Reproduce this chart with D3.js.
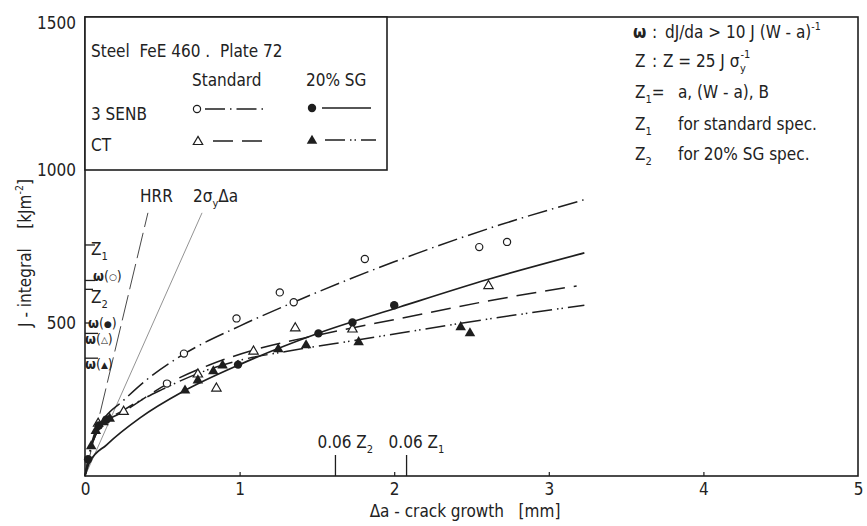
<!DOCTYPE html>
<html><head><meta charset="utf-8">
<script src="https://cdn.jsdelivr.net/npm/d3@7"></script>
<style>
body{margin:0;background:#fff}
svg text{font-family:'DejaVu Sans Condensed','Liberation Sans Narrow','DejaVu Sans',sans-serif;fill:#222;white-space:pre}
</style></head><body>
<svg id="chart" width="867" height="526"></svg>
<script>
// ---------------- DATA ----------------
const xTicks = [0, 1, 2, 3, 4, 5];
const yTicks = [500, 1000, 1500];

// measured points: [crack growth mm, J kJ/m2]
const senbStdPts = [[0.53,302],[0.64,400],[0.98,515],[1.26,600],[1.35,568],[1.81,709],[2.55,748],[2.73,765]];
const senbSgPts  = [[0.02,55],[0.09,165],[0.14,185],[0.99,364],[1.51,466],[1.73,502],[2.0,558]];
const ctStdPts   = [[0.085,174],[0.25,213],[0.73,335],[0.85,289],[1.09,410],[1.36,486],[1.73,482],[2.61,624]];
const ctSgPts    = [[0.04,100],[0.07,150],[0.12,178],[0.16,190],[0.647,282],[0.73,315],[0.83,345],[0.89,364],[1.25,417],[1.43,430],[1.77,440],[2.43,489],[2.49,469]];

// fitted curves
const senbStdCurve = [[0,0],[0.05,120],[0.12,185],[0.24,243],[0.4,315],[0.615,391],[1.0,490],[1.35,568],[2.0,700],[2.68,820],[3.25,906]];
const senbSgCurve  = [[0,0],[0.03,45],[0.14,102],[0.356,190],[0.634,276],[1.0,364],[1.5,465],[2.04,553],[2.61,643],[3.23,729]];
const ctStdCurve   = [[0,0],[0.05,110],[0.1,160],[0.26,213],[0.53,300],[0.8,362],[1.1,413],[1.5,460],[2.04,515],[2.66,577],[3.18,621]];
const ctSgCurve    = [[0,0],[0.05,110],[0.1,160],[0.25,215],[0.5,283],[0.8,348],[1.0,378],[1.3,407],[1.77,445],[2.04,467],[2.57,510],[3.23,558]];

// blunting lines
const hrrLine   = [[0,0],[0.407,860]];
const sigmaLine = [[0,0],[0.757,860]];

// marks on the J axis
const jMarkValues = [755, 639, 610, 500, 466, 385];
const jMarkLabels = ["Z1", "w(o)", "Z2", "w(•)", "w(d)", "w(t)"];

// marks on the crack-growth axis
const aMarkValues = [1.62, 2.08];
const aMarkSubs   = ["2", "1"];

// ---------------- DRAW ----------------
const svg = d3.select("#chart");
const x = d3.scaleLinear().domain([0, 5]).range([85, 858]);
const y = d3.scaleLinear().domain([0, 1500]).range([476, 17]);
const INK = "#1e1e1e";

function txt(g, px, py, parts, size, anchor) {
  const t = g.append("text").attr("x", px).attr("y", py)
    .attr("font-size", size).attr("text-anchor", anchor || "start");
  parts.forEach(p => {
    const [s, kind] = Array.isArray(p) ? p : [p, null];
    const ts = t.append("tspan").text(s);
    if (kind === "sub") ts.attr("font-size", size * 0.65).attr("dy", size * 0.3);
    else if (kind === "subend") ts.attr("dy", -size * 0.3);
    else if (kind === "sup") ts.attr("font-size", size * 0.62).attr("dy", -size * 0.5);
    else if (kind === "supend") ts.attr("dy", size * 0.5);
    else if (kind === "b") ts.attr("font-weight", "bold");
  });
  return t;
}
function S(s){return [s,"sub"];}
function P(s){return [s,"sup"];}

// frame
svg.append("rect").attr("x", x(0)).attr("y", y(1500))
  .attr("width", x(5) - x(0)).attr("height", y(0) - y(1500))
  .attr("fill", "none").attr("stroke", INK).attr("stroke-width", 1.6);

// x axis (ticks inward)
const xAxis = d3.axisBottom(x).tickValues(xTicks).tickSize(-4).tickFormat(d3.format("d")).tickPadding(10);
const gx = svg.append("g").attr("transform", `translate(0,${y(0)})`).call(xAxis);
gx.select(".domain").remove();
gx.selectAll("line").attr("stroke", INK).attr("stroke-width", 1.2);
gx.selectAll("text").attr("font-size", 17).attr("font-family", null).attr("fill", INK).attr("dy", "0.5em");
gx.selectAll(".tick").filter(d => d === 0 || d === 5).select("line").remove();

// y axis
const yAxis = d3.axisLeft(y).tickValues(yTicks).tickSize(0).tickPadding(9).tickFormat(d3.format("d"));
const gy = svg.append("g").attr("transform", `translate(${x(0)},0)`).call(yAxis);
gy.select(".domain").remove();
gy.selectAll("text").attr("font-size", 17).attr("font-family", null).attr("fill", INK);
gy.selectAll(".tick").filter(d => d === 1500).select("text").attr("dy", "0.7em");

// axis titles
txt(svg, 465, 517, ["Δa - crack growth   [mm]"], 17, "middle");
txt(svg, 0, 0, ["J - integral    [kJm", P("-2"), ["]", "supend"]], 17, "middle")
  .attr("transform", "translate(31,253) rotate(-90)");

// legend box
const lg = svg.append("g");
lg.append("rect").attr("x", x(0)).attr("y", y(1500)).attr("width", 387 - x(0)).attr("height", y(1000) - y(1500))
  .attr("fill", "#fff").attr("stroke", INK).attr("stroke-width", 1.6);
txt(lg, 91, 57, ["Steel  FeE 460 .  Plate 72"], 17);
txt(lg, 192, 86, ["Standard"], 17);
txt(lg, 306, 86, ["20% SG"], 17);
txt(lg, 91, 120, ["3 SENB"], 17);
txt(lg, 91, 151, ["CT"], 17);

const styles = {
  senbStd: {dash: "20,5,1.5,5", width: 1.5},
  senbSg:  {dash: null, width: 1.7},
  ctStd:   {dash: "20,9", width: 1.5},
  ctSg:    {dash: "20,5,1.5,3,1.5,5", width: 1.5}
};
function marker(g, kind, px, py) {
  if (kind === "oc") g.append("circle").attr("cx", px).attr("cy", py).attr("r", 3.6).attr("fill", "#fff").attr("stroke", INK).attr("stroke-width", 1.2);
  else if (kind === "fc") g.append("circle").attr("cx", px).attr("cy", py).attr("r", 4.2).attr("fill", INK);
  else if (kind === "ot") g.append("path").attr("d", d3.symbol(d3.symbolTriangle, 38)()).attr("transform", `translate(${px},${py + 0.8})`).attr("fill", "#fff").attr("stroke", INK).attr("stroke-width", 1.2);
  else if (kind === "ft") g.append("path").attr("d", d3.symbol(d3.symbolTriangle, 48)()).attr("transform", `translate(${px},${py + 0.8})`).attr("fill", INK);
}
function legLine(x1, x2, yy, st) {
  const l = lg.append("line").attr("x1", x1).attr("x2", x2).attr("y1", yy).attr("y2", yy)
    .attr("stroke", INK).attr("stroke-width", st.width);
  if (st.dash) l.attr("stroke-dasharray", st.dash);
}
marker(lg, "oc", 197, 109); legLine(205, 263, 109, styles.senbStd);
marker(lg, "fc", 312, 108); legLine(322, 371, 108, styles.senbSg);
marker(lg, "ot", 198, 141); legLine(213, 264, 141, styles.ctStd);
marker(lg, "ft", 312, 140); legLine(325, 376, 140, styles.ctSg);

// right-hand notes
const nt = svg.append("g");
txt(nt, 633, 38, [["ω", "b"]], 17);
txt(nt, 652, 38, [":"], 17);
txt(nt, 665, 38, ["dJ/da > 10 J (W - a)", P("-1")], 17);
txt(nt, 635, 67, ["Z"], 17);
txt(nt, 652, 67, [":"], 17);
const zt = txt(nt, 663, 67, ["Z = 25 J σ"], 17);
const zw = zt.node().getComputedTextLength();
txt(nt, 663 + zw + 0.5, 72, ["y"], 11);
txt(nt, 663 + zw + 1, 58, ["-1"], 11);
txt(nt, 635, 98, ["Z", S("1"), ["=", "subend"]], 17);
txt(nt, 678, 98, ["a, (W - a), B"], 17);
txt(nt, 635, 130, ["Z", S("1")], 17);
txt(nt, 678, 130, ["for standard spec."], 17);
txt(nt, 635, 160, ["Z", S("2")], 17);
txt(nt, 678, 160, ["for 20% SG spec."], 17);

// blunting lines
const line = d3.line().x(d => x(d[0])).y(d => y(d[1]));
svg.append("path").attr("d", line(hrrLine)).attr("fill", "none").attr("stroke", "#333").attr("stroke-width", 0.9).attr("stroke-dasharray", "26,6");
svg.append("path").attr("d", line(sigmaLine)).attr("fill", "none").attr("stroke", "#777").attr("stroke-width", 0.8);
txt(svg, 140, 202, ["HRR"], 17);
txt(svg, 193, 202, ["2σ", S("y"), ["Δa", "subend"]], 17);

// J-axis marks
const markStyle = [
  {len: 10, lx: 91, dy: 10},
  {len: 10, lx: 93, dy: 1},
  {len: 8,  lx: 91, dy: 14},
  {len: 5,  lx: 88, dy: 5},
  {len: 13, lx: 85, dy: 11},
  {len: 13, lx: 85, dy: 11}
];
const symbolChar = {o: "○", "•": "●", d: "△", t: "▲"};
jMarkValues.forEach((v, i) => {
  const st = markStyle[i], lab = jMarkLabels[i], py = y(v);
  svg.append("line").attr("x1", x(0)).attr("x2", x(0) + st.len).attr("y1", py).attr("y2", py)
    .attr("stroke", INK).attr("stroke-width", 1.3);
  if (lab[0] === "Z") txt(svg, st.lx, py + st.dy, ["Z", S(lab[1])], 17);
  else txt(svg, st.lx, py + st.dy, [["ω", "b"], "(", [symbolChar[lab[2]], null], ")"], 14)
    .call(t => t.selectAll("tspan").filter((d, k) => k === 2).attr("font-size", 9).attr("dy", -1).attr("font-family", "DejaVu Sans"))
    .call(t => t.selectAll("tspan").filter((d, k) => k === 3).attr("dy", 1));
});

// crack-growth axis marks
aMarkValues.forEach((v, i) => {
  svg.append("line").attr("x1", x(v)).attr("x2", x(v)).attr("y1", y(0)).attr("y2", y(0) - 21)
    .attr("stroke", INK).attr("stroke-width", 1.3);
  txt(svg, x(v) - 18, 448, ["0.06 Z", S(aMarkSubs[i])], 17);
});

// curves
const curve = d3.line().x(d => x(d[0])).y(d => y(d[1])).curve(d3.curveMonotoneX);
[[senbStdCurve, styles.senbStd], [senbSgCurve, styles.senbSg], [ctStdCurve, styles.ctStd], [ctSgCurve, styles.ctSg]]
  .forEach(([data, st]) => {
    const p = svg.append("path").attr("d", curve(data)).attr("fill", "none")
      .attr("stroke", INK).attr("stroke-width", st.width);
    if (st.dash) p.attr("stroke-dasharray", st.dash);
  });

// points
const pg = svg.append("g");
senbStdPts.forEach(d => marker(pg, "oc", x(d[0]), y(d[1])));
ctStdPts.forEach(d => marker(pg, "ot", x(d[0]), y(d[1])));
senbSgPts.forEach(d => marker(pg, "fc", x(d[0]), y(d[1])));
ctSgPts.forEach(d => marker(pg, "ft", x(d[0]), y(d[1])));
</script>
</body></html>
